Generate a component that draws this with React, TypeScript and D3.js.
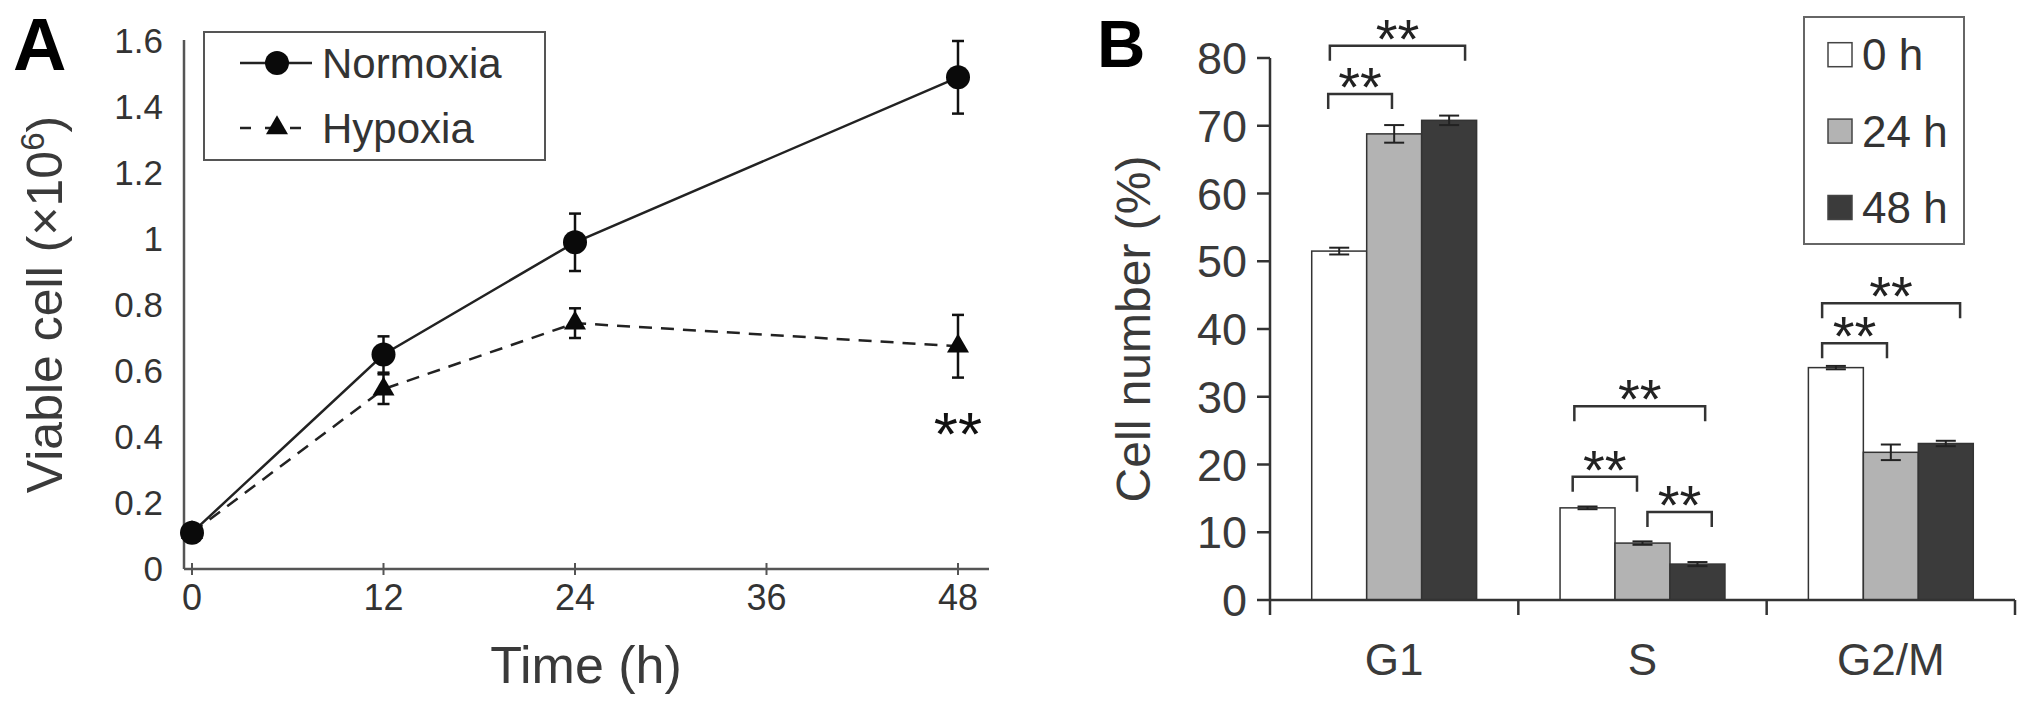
import React from "react";
import * as d3 from "d3";

// Panel A: viable cells over time
const timePoints = [0, 12, 24, 48];
const normoxiaMean = [0.11, 0.65, 0.99, 1.49];
const normoxiaErr = [0.02, 0.055, 0.087, 0.11];
const hypoxiaMean = [0.11, 0.545, 0.745, 0.675];
const hypoxiaErr = [0.02, 0.045, 0.045, 0.095];
const timeTicks = [0, 12, 24, 36, 48];
const viableTicks = [0, 0.2, 0.4, 0.6, 0.8, 1, 1.2, 1.4, 1.6];

// Panel B: cell cycle phases
const phases = ["G1", "S", "G2/M"];
const groups = ["0 h", "24 h", "48 h"];
const mean0h = [51.5, 13.6, 34.3];
const mean24h = [68.8, 8.4, 21.8];
const mean48h = [70.8, 5.3, 23.1];
const err0h = [0.5, 0.2, 0.25];
const err24h = [1.3, 0.25, 1.15];
const err48h = [0.7, 0.3, 0.4];
const percentTicks = [0, 10, 20, 30, 40, 50, 60, 70, 80];

// significance brackets (positions in bar units inside a phase group)
const bracketPhase = ["G1", "G1", "S", "S", "S", "G2/M", "G2/M"];
const bracketFrom = [0.3, 0.33, 0.26, 0.23, 1.59, 0.25, 0.25];
const bracketTo = [1.46, 2.79, 2.64, 1.4, 2.76, 2.76, 1.43];
const bracketLevel = [74.7, 81.8, 28.6, 18.2, 13.0, 43.8, 37.9];

const FONT = "'Liberation Sans', Arial, Helvetica, sans-serif";
const fills = ["#ffffff", "#b3b3b3", "#3b3b3b"];

const fmt = (v: number) => String(+v.toFixed(1));

const PanelA: React.FC = () => {
  const x = d3.scaleLinear().domain([0, 48]).range([192, 958]);
  const y = d3.scaleLinear().domain([0, 1.6]).range([569, 41]);
  const axisX0 = 184;
  const axisX1 = 989;
  const line = d3
    .line<number>()
    .x((_, i) => x(timePoints[i]))
    .y((d) => y(d));
  const tri = d3.symbol(d3.symbolTriangle, 210)();
  const series = [
    { mean: hypoxiaMean, err: hypoxiaErr, dash: "13,9", marker: "tri" },
    { mean: normoxiaMean, err: normoxiaErr, dash: undefined, marker: "circle" },
  ];
  const last = timePoints.length - 1;
  const starY = y(hypoxiaMean[last] - hypoxiaErr[last]) + 77;

  return (
    <g fontFamily={FONT}>
      <text x={13} y={70} fontSize={74} fontWeight="bold" fill="#000">A</text>
      {/* axes */}
      <line x1={axisX0} x2={axisX0} y1={40} y2={y(0)} stroke="#555" strokeWidth={2.5} />
      <line x1={axisX0} x2={axisX1} y1={y(0)} y2={y(0)} stroke="#555" strokeWidth={2.5} />
      {timeTicks.map((t) => (
        <g key={t}>
          <line x1={x(t)} x2={x(t)} y1={y(0) - 6} y2={y(0) + 6} stroke="#555" strokeWidth={2} />
          <text x={x(t)} y={610} textAnchor="middle" fontSize={36} fill="#333">{t}</text>
        </g>
      ))}
      {viableTicks.map((v) => (
        <text key={v} x={163} y={y(v) + 12} textAnchor="end" fontSize={35} fill="#333">
          {fmt(v)}
        </text>
      ))}
      <text x={586} y={683} textAnchor="middle" fontSize={52} fill="#3a3a3a">Time (h)</text>
      <text
        transform={`translate(62,${(40 + y(0)) / 2}) rotate(-90)`}
        textAnchor="middle"
        fontSize={50}
        fill="#3a3a3a"
      >
        Viable cell (×10<tspan fontSize={33} dy={-18}>6</tspan>
        <tspan dy={18}>)</tspan>
      </text>

      {/* series */}
      {series.map((s, si) => (
        <g key={si}>
          <path d={line(s.mean) || ""} fill="none" stroke="#222" strokeWidth={2.5} strokeDasharray={s.dash} />
          {s.mean.map((m, i) => {
            const cx = x(timePoints[i]);
            const top = y(m + s.err[i]);
            const bot = y(m - s.err[i]);
            return (
              <g key={i}>
                <line x1={cx} x2={cx} y1={top} y2={bot} stroke="#111" strokeWidth={2.5} />
                <line x1={cx - 6} x2={cx + 6} y1={top} y2={top} stroke="#111" strokeWidth={2.5} />
                <line x1={cx - 6} x2={cx + 6} y1={bot} y2={bot} stroke="#111" strokeWidth={2.5} />
                {s.marker === "circle" ? (
                  <circle cx={cx} cy={y(m)} r={12} fill="#0a0a0a" />
                ) : (
                  <path d={tri || ""} transform={`translate(${cx},${y(m)})`} fill="#0a0a0a" />
                )}
              </g>
            );
          })}
        </g>
      ))}
      <text x={x(timePoints[last])} y={starY} textAnchor="middle" fontSize={62} fill="#111">**</text>

      {/* legend */}
      <rect x={204} y={32} width={341} height={128} fill="#fff" stroke="#555" strokeWidth={2} />
      <line x1={240} x2={312} y1={63} y2={63} stroke="#222" strokeWidth={2.5} />
      <circle cx={277} cy={63} r={12} fill="#0a0a0a" />
      <text x={322} y={78} fontSize={42} fill="#333">Normoxia</text>
      <line x1={240} x2={312} y1={128} y2={128} stroke="#222" strokeWidth={2.5} strokeDasharray="11,14" />
      <path d={tri || ""} transform={`translate(277,128)`} fill="#0a0a0a" />
      <text x={322} y={143} fontSize={42} fill="#333">Hypoxia</text>
    </g>
  );
};

const PanelB: React.FC = () => {
  const y = d3.scaleLinear().domain([0, 80]).range([600, 58]);
  const x = d3.scaleBand<string>().domain(phases).range([1270, 2015]).paddingInner(0.336).paddingOuter(0.168);
  const sub = d3.scaleBand<string>().domain(groups).range([0, x.bandwidth()]);
  const pos = d3.scaleLinear().domain([0, groups.length]).range([0, x.bandwidth()]);
  const means = [mean0h, mean24h, mean48h];
  const errs = [err0h, err24h, err48h];
  const step = x.step();
  const x0 = 1270;
  const bw = sub.bandwidth();

  return (
    <g fontFamily={FONT}>
      <text x={1097} y={67} fontSize={67} fontWeight="bold" fill="#000">B</text>
      {/* bars */}
      {phases.map((p, pi) =>
        groups.map((g, gi) => {
          const bx = (x(p) || 0) + (sub(g) || 0);
          const v = means[gi][pi];
          const e = errs[gi][pi];
          const cx = bx + bw / 2;
          return (
            <g key={p + g}>
              <rect x={bx} y={y(v)} width={bw} height={y(0) - y(v)} fill={fills[gi]} stroke="#333" strokeWidth={1.5} />
              <line x1={cx} x2={cx} y1={y(v + e)} y2={y(v - e)} stroke="#222" strokeWidth={2} />
              <line x1={cx - 10} x2={cx + 10} y1={y(v + e)} y2={y(v + e)} stroke="#222" strokeWidth={2} />
              <line x1={cx - 10} x2={cx + 10} y1={y(v - e)} y2={y(v - e)} stroke="#222" strokeWidth={2} />
            </g>
          );
        })
      )}
      {/* axes */}
      <line x1={x0} x2={x0} y1={y(80)} y2={615} stroke="#333" strokeWidth={2.5} />
      <line x1={x0} x2={2015} y1={y(0)} y2={y(0)} stroke="#333" strokeWidth={2.5} />
      {percentTicks.map((v) => (
        <g key={v}>
          <line x1={x0 - 13} x2={x0} y1={y(v)} y2={y(v)} stroke="#333" strokeWidth={2.5} />
          <text x={1247} y={y(v) + 16} textAnchor="end" fontSize={45} fill="#3a3a3a">{v}</text>
        </g>
      ))}
      {phases.map((p, i) => (
        <g key={p}>
          <line x1={x0 + step * (i + 1)} x2={x0 + step * (i + 1)} y1={y(0)} y2={615} stroke="#333" strokeWidth={2.5} />
          <text x={(x(p) || 0) + x.bandwidth() / 2} y={675} textAnchor="middle" fontSize={44} fill="#3a3a3a">{p}</text>
        </g>
      ))}
      <text
        transform={`translate(1150,${(y(80) + y(0)) / 2}) rotate(-90)`}
        textAnchor="middle"
        fontSize={48}
        fill="#3a3a3a"
      >
        Cell number (%)
      </text>

      {/* significance */}
      {bracketPhase.map((p, i) => {
        const gx = x(p) || 0;
        const l = gx + pos(bracketFrom[i]);
        const r = gx + pos(bracketTo[i]);
        const by = y(bracketLevel[i]);
        return (
          <g key={i}>
            <path d={`M${l},${by + 15}V${by}H${r}V${by + 15}`} fill="none" stroke="#333" strokeWidth={2.5} />
            <text x={(l + r) / 2} y={by + 12} textAnchor="middle" fontSize={56} fill="#222">**</text>
          </g>
        );
      })}

      {/* legend */}
      <rect x={1804} y={17} width={160} height={227} fill="#fff" stroke="#666" strokeWidth={2} />
      {groups.map((g, i) => {
        const cy = 54.7 + i * 76.4;
        return (
          <g key={g}>
            <rect x={1828} y={cy - 12} width={24} height={24} fill={fills[i]} stroke="#444" strokeWidth={1.5} />
            <text x={1862} y={cy + 15.5} fontSize={44} fill="#333">{g}</text>
          </g>
        );
      })}
    </g>
  );
};

export default function App() {
  return (
    <svg
      width={2031}
      height={704}
      viewBox="0 0 2031 704"
      style={{ position: "absolute", left: 0, top: 0, background: "#fff" }}
    >
      <rect width={2031} height={704} fill="#fff" />
      <PanelA />
      <PanelB />
    </svg>
  );
}
